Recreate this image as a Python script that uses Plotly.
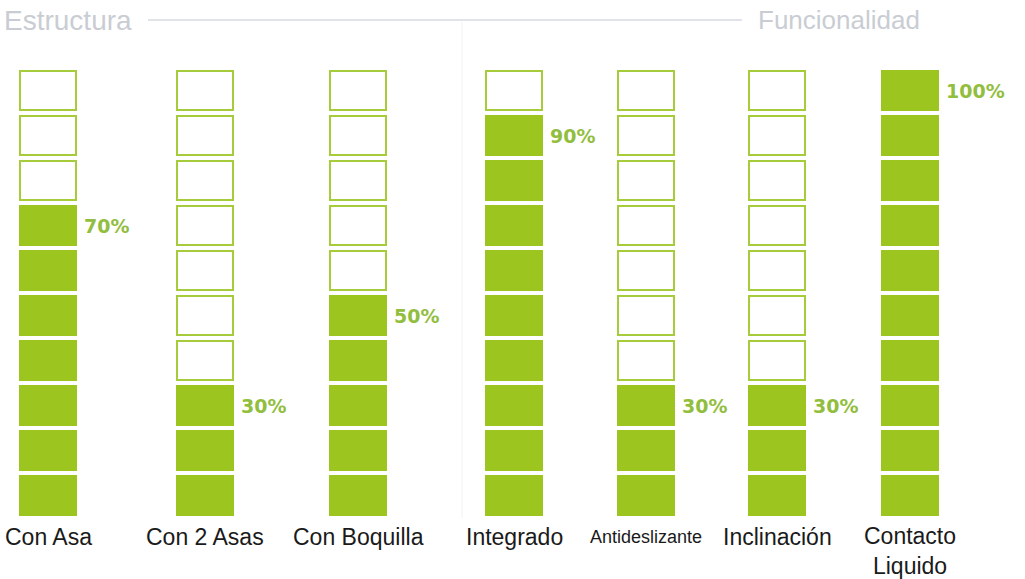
import plotly.graph_objects as go

# ---- data ----
categories = ["Con Asa", "Con 2 Asas", "Con Boquilla", "Integrado",
              "Antideslizante", "Inclinación", "Contacto<br>Liquido"]
values = [70, 30, 50, 90, 30, 30, 100]
group_left = "Estructura"
group_right = "Funcionalidad"
cells_per_column = 10

# ---- layout constants (pixels) ----
W, H = 1025, 579
x_centers = [48, 205, 358, 514, 646, 777, 910]
pitch_px = 45.0           # vertical pitch of a cell
bottom_px = 516.0         # bottom of the lowest cell (from top)
cell_h = 0.90             # cell height in cell units
cell_w = 56               # inner width (plus 2px outline)

FILL = "#9CC61F"
EDGE = "#A6CC3C"
LABEL_GREEN = "#92BE40"

y_lo = -(H - bottom_px) / pitch_px
y_hi = y_lo + H / pitch_px

def py(px):  # pixel from top -> paper coordinate
    return 1 - px / H

fx, fb, ex, eb = [], [], [], []
for xc, v in zip(x_centers, values):
    n_filled = int(round(v / 100 * cells_per_column))
    for k in range(cells_per_column):
        if k < n_filled:
            fx.append(xc); fb.append(k + 0.02)
        else:
            ex.append(xc); eb.append(k + 0.02)

fig = go.Figure()
fig.add_trace(go.Bar(x=fx, y=[cell_h - 0.04] * len(fx), base=fb, width=cell_w,
                     marker=dict(color=FILL, line=dict(color=FILL, width=2)),
                     hoverinfo="skip", showlegend=False))
fig.add_trace(go.Bar(x=ex, y=[cell_h - 0.04] * len(ex), base=eb, width=cell_w,
                     marker=dict(color="white", line=dict(color=EDGE, width=2)),
                     hoverinfo="skip", showlegend=False))

annotations = []
# percentage labels
for xc, v in zip(x_centers, values):
    n_filled = int(round(v / 100 * cells_per_column))
    annotations.append(dict(x=xc + 34, y=n_filled - 1 + cell_h / 2, xref="x", yref="y",
                            text=f"{v}%", showarrow=False, xanchor="left", yanchor="middle",
                            font=dict(family="DejaVu Sans", size=19, color=LABEL_GREEN, weight="bold")))
# category labels
for xc, c in zip(x_centers, categories):
    small = c == "Antideslizante"
    annotations.append(dict(x=xc, y=py(537), xref="x", yref="paper", text=c, showarrow=False,
                            xanchor="center", yanchor="middle" if "<br>" not in c else "top",
                            yshift=0 if "<br>" not in c else 16,
                            font=dict(family="Liberation Sans", size=18 if small else 23,
                                      color="#1a1a1a")))
# group headers
annotations.append(dict(x=2, y=py(20), xref="x", yref="paper", text=group_left, showarrow=False,
                        xanchor="left", yanchor="middle",
                        font=dict(family="Liberation Sans", size=28, color="#C9CDD3")))
annotations.append(dict(x=756, y=py(20), xref="x", yref="paper", text=group_right, showarrow=False,
                        xanchor="left", yanchor="middle",
                        font=dict(family="Liberation Sans", size=26, color="#C9CDD3")))

shapes = [
    dict(type="line", xref="x", yref="paper", x0=148, x1=742, y0=py(20), y1=py(20),
         line=dict(color="#D6DADF", width=1.5)),
    dict(type="line", xref="x", yref="paper", x0=462, x1=462, y0=py(22), y1=py(518),
         line=dict(color="#F2F2F2", width=1), layer="below"),
]

fig.update_layout(
    width=W, height=H, margin=dict(l=0, r=0, t=0, b=0),
    paper_bgcolor="white", plot_bgcolor="white",
    barmode="overlay", bargap=0,
    xaxis=dict(range=[0, W], visible=False, fixedrange=True),
    yaxis=dict(range=[y_lo, y_hi], visible=False, fixedrange=True),
    annotations=annotations, shapes=shapes, showlegend=False,
)

fig.write_html("out.html")
